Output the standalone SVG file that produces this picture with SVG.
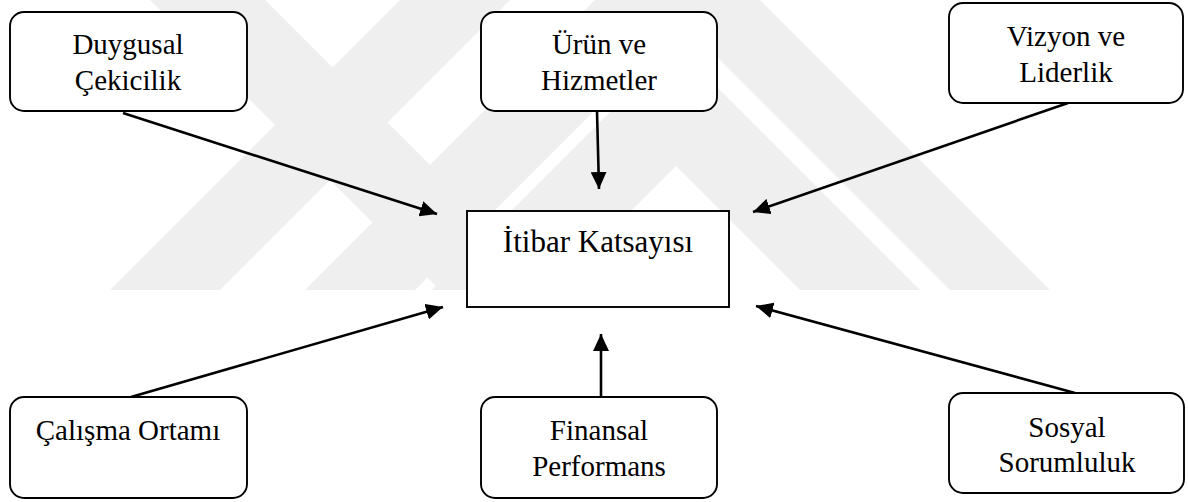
<svg xmlns="http://www.w3.org/2000/svg" width="1188" height="502" viewBox="0 0 1188 502">
  <style>
    .box { fill: #ffffff; stroke: #000000; stroke-width: 1.9; }
    .lbl { font-family: "Liberation Serif", "Times New Roman", serif; font-size: 29px; fill: #000000; text-anchor: middle; }
    .big { font-size: 31px; }
    .conn { stroke: #000000; stroke-width: 2.6; fill: none; marker-end: url(#arrow); }
    .wm { fill: #efefef; stroke: none; }
  </style>
  <defs>
    <marker id="arrow" markerUnits="userSpaceOnUse" markerWidth="18" markerHeight="16" refX="17" refY="8" orient="auto">
      <path d="M0,0 L17,8 L0,16 Z" fill="#000000"/>
    </marker>
  </defs>
  <rect x="0" y="0" width="1188" height="502" fill="#ffffff"/>
  <g id="watermark">
    <polygon class="wm" points="400,0 510,0 220,290 110,290"/>
    <polygon class="wm" points="150,0 265,0 555,290 440,290"/>
    <polygon class="wm" points="595,0 705,0 415,290 305,290"/>
    <polygon class="wm" points="676,46 920,290 800,290 676,166 552,290 432,290"/>
    <polygon class="wm" points="660,0 760,0 1050,290 950,290"/>
  </g>
  <g id="connectors">
    <line class="conn" x1="123" y1="113" x2="437" y2="214"/>
    <line class="conn" x1="597" y1="111" x2="599" y2="189"/>
    <line class="conn" x1="1068" y1="103" x2="753" y2="212"/>
    <line class="conn" x1="131" y1="397" x2="443" y2="307"/>
    <line class="conn" x1="601" y1="397" x2="601" y2="334"/>
    <line class="conn" x1="1075" y1="393" x2="756" y2="306"/>
  </g>
  <g id="duygusal">
    <rect class="box" x="10" y="12" width="237" height="99" rx="14"/>
    <text class="lbl" x="128" y="54">Duygusal</text>
    <text class="lbl" x="128" y="90">Çekicilik</text>
  </g>
  <g id="urun">
    <rect class="box" x="481" y="12" width="236" height="99" rx="14"/>
    <text class="lbl" x="599" y="54">Ürün ve</text>
    <text class="lbl" x="599" y="90">Hizmetler</text>
  </g>
  <g id="vizyon">
    <rect class="box" x="949" y="3" width="234" height="100" rx="14"/>
    <text class="lbl" x="1066" y="46">Vizyon ve</text>
    <text class="lbl" x="1066" y="82">Liderlik</text>
  </g>
  <g id="itibar">
    <rect class="box" x="467" y="211" width="262" height="96"/>
    <text class="lbl big" x="598" y="252">İtibar Katsayısı</text>
  </g>
  <g id="calisma">
    <rect class="box" x="10" y="397" width="237" height="101" rx="14"/>
    <text class="lbl" x="128" y="440">Çalışma Ortamı</text>
  </g>
  <g id="finansal">
    <rect class="box" x="481" y="397" width="236" height="101" rx="14"/>
    <text class="lbl" x="599" y="440">Finansal</text>
    <text class="lbl" x="599" y="476">Performans</text>
  </g>
  <g id="sosyal">
    <rect class="box" x="949" y="393" width="235" height="100" rx="14"/>
    <text class="lbl" x="1067" y="437">Sosyal</text>
    <text class="lbl" x="1067" y="472">Sorumluluk</text>
  </g>
</svg>
